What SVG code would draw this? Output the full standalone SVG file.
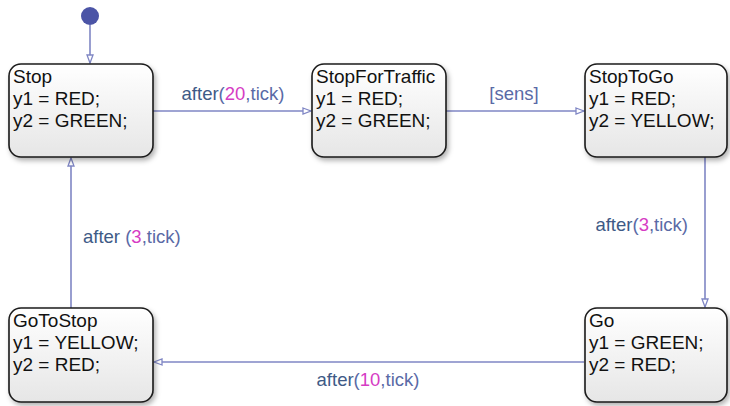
<svg xmlns="http://www.w3.org/2000/svg" width="730" height="406" viewBox="0 0 730 406">
<style>
.box{fill:url(#g);stroke:#1a1a1a;stroke-width:1.6;filter:url(#sh)}
.t{font-family:"Liberation Sans",Arial,sans-serif;font-size:19px;fill:#111}
.c{fill:none;stroke:#7f86c4;stroke-width:1.6}
.l{font-family:"Liberation Sans",Arial,sans-serif;font-size:18.5px;fill:#5a6aa6}
.k{fill:#3e5a86}
.n{fill:#d63cc4}
</style>
<defs>
<linearGradient id="g" x1="0" y1="0" x2="0" y2="1">
<stop offset="0" stop-color="#ffffff"/>
<stop offset="1" stop-color="#e6e6e6"/>
</linearGradient>
<filter id="sh" x="-10%" y="-10%" width="125%" height="130%">
<feDropShadow dx="2" dy="3" stdDeviation="2.5" flood-color="#000" flood-opacity="0.3"/>
</filter>
<marker id="a" markerWidth="10" markerHeight="8" refX="9" refY="4" orient="auto" markerUnits="userSpaceOnUse">
<path d="M1,1 L9,4 L1,7 Z" fill="#fff" stroke="#7f86c4" stroke-width="1.3"/>
</marker>
</defs>
<g id="connectors">
<circle cx="90" cy="16" r="9" fill="#4b54a6"/>
<path class="c" d="M90,25 V63" marker-end="url(#a)"/>
<path class="c" d="M153,111 H311" marker-end="url(#a)"/>
<text class="l" x="233" y="100" text-anchor="middle"><tspan class="k">after</tspan>(<tspan class="n">20</tspan>,tick)</text>
<path class="c" d="M446,111 H584" marker-end="url(#a)"/>
<text class="l" x="514" y="100" text-anchor="middle">[sens]</text>
<path class="c" d="M705,157 V307" marker-end="url(#a)"/>
<text class="l" x="688" y="231" text-anchor="end"><tspan class="k">after</tspan>(<tspan class="n">3</tspan>,tick)</text>
<path class="c" d="M584,362 H154" marker-end="url(#a)"/>
<text class="l" x="368" y="386" text-anchor="middle"><tspan class="k">after</tspan>(<tspan class="n">10</tspan>,tick)</text>
<path class="c" d="M71,308 V158" marker-end="url(#a)"/>
<text class="l" x="83" y="243"><tspan class="k">after</tspan> (<tspan class="n">3</tspan>,tick)</text>
</g>
<g id="Stop">
<rect class="box" x="9" y="64" width="144" height="93" rx="12"/>
<text class="t" x="13" y="83">Stop</text>
<text class="t" x="13" y="105">y1 = RED;</text>
<text class="t" x="13" y="127">y2 = GREEN;</text>
</g>
<g id="StopForTraffic">
<rect class="box" x="312" y="64" width="134" height="93" rx="12"/>
<text class="t" x="316" y="83">StopForTraffic</text>
<text class="t" x="316" y="105">y1 = RED;</text>
<text class="t" x="316" y="127">y2 = GREEN;</text>
</g>
<g id="StopToGo">
<rect class="box" x="585" y="64" width="142" height="93" rx="12"/>
<text class="t" x="589" y="83">StopToGo</text>
<text class="t" x="589" y="105">y1 = RED;</text>
<text class="t" x="589" y="127">y2 = YELLOW;</text>
</g>
<g id="GoToStop">
<rect class="box" x="9" y="308" width="144" height="94" rx="12"/>
<text class="t" x="13" y="327">GoToStop</text>
<text class="t" x="13" y="349">y1 = YELLOW;</text>
<text class="t" x="13" y="371">y2 = RED;</text>
</g>
<g id="Go">
<rect class="box" x="585" y="308" width="142" height="94" rx="12"/>
<text class="t" x="589" y="327">Go</text>
<text class="t" x="589" y="349">y1 = GREEN;</text>
<text class="t" x="589" y="371">y2 = RED;</text>
</g>
</svg>
